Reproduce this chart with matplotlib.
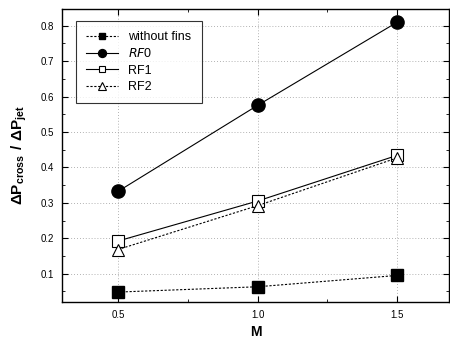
import matplotlib.pyplot as plt
from matplotlib.ticker import MultipleLocator

plt.rcParams['font.family'] = ['Liberation Sans', 'DejaVu Sans']
plt.rcParams['mathtext.fontset'] = 'custom'
plt.rcParams['mathtext.rm'] = 'Liberation Sans'
plt.rcParams['mathtext.bf'] = 'Liberation Sans:bold'

# data
M = [0.5, 1.0, 1.5]
without_fins = [0.048, 0.063, 0.095]
rf0 = [0.332, 0.575, 0.81]
rf1 = [0.192, 0.305, 0.434]
rf2 = [0.168, 0.292, 0.427]

fig = plt.figure(figsize=(4.5, 3.43), dpi=100)
ax = fig.add_axes([62/450, 41/343, 387/450, 293/343])

ax.plot(M, without_fins, ls=(0, (2, 1.5)), lw=0.8, color='k', marker='s', ms=8,
        mfc='k', mec='k', label='without fins')
ax.plot(M, rf0, ls='-', lw=0.8, color='k', marker='o', ms=9.5,
        mfc='k', mec='k', label='$\\it{RF0}$')
ax.plot(M, rf1, ls='-', lw=0.8, color='k', marker='s', ms=8,
        mfc='white', mec='k', mew=0.8, label='RF1')
ax.plot(M, rf2, ls=(0, (2, 1.5)), lw=0.8, color='k', marker='^', ms=9,
        mfc='white', mec='k', mew=0.8, label='RF2')

ax.set_xlim(0.3, 1.685)
ax.set_ylim(0.02, 0.847)
ax.set_xticks(M)
ax.set_xticklabels(['0.5', '1.0', '1.5'])
ax.yaxis.set_major_locator(MultipleLocator(0.1))
ax.yaxis.set_minor_locator(MultipleLocator(0.05))
ax.xaxis.set_minor_locator(MultipleLocator(0.25))
ax.tick_params(which='both', direction='in', top=True, right=True, labelsize=7)
ax.tick_params(which='major', length=4, pad=6)
ax.tick_params(which='minor', length=2)
for s in ax.spines.values():
    s.set_linewidth(1.0)

ax.grid(True, which='major', ls=(0, (1, 2.5)), lw=0.6, color='0.6')

ax.set_xlabel('M', fontsize=10, fontweight='bold', labelpad=3)
ax.set_ylabel('$\\mathbf{\\Delta P_{cross}\\ /\\ \\Delta P_{jet}}$', fontsize=11, labelpad=8)

leg = ax.legend(loc='upper left', bbox_to_anchor=(0.02, 0.98), fontsize=9,
                frameon=True, fancybox=False, edgecolor='k', handlelength=2.6,
                markerscale=0.6, borderpad=0.8, labelspacing=0.35)
leg.get_frame().set_linewidth(0.8)

fig.savefig('out.png', dpi=100)
